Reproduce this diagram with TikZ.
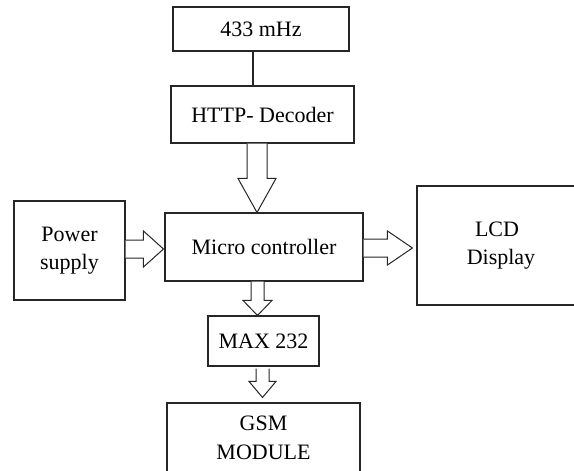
\documentclass[tikz,border=0pt]{standalone}
\usepackage{fontspec}
\setmainfont{Liberation Serif}
\usetikzlibrary{calc}
\tikzset{
  blk/.style={draw=black!85, line width=1.1pt, fill=white, inner sep=0pt, align=center,
    font=\fontsize{22}{28.5}\selectfont},
  barrow/.style={draw=black!85, line width=1pt, line join=miter, fill=white},
  wire/.style={draw=black!85, line width=1.1pt}
}
% vertical block arrow: #1 start, #2 tip, #3 shaft half, #4 head half, #5 head length
\newcommand\myvarrow[5]{%
  \draw[barrow] let \p1=(#1), \p2=(#2) in
    (\x1-#3,\y1) -- (\x1-#3,\y2+#5) -- (\x1-#4,\y2+#5) -- (\x1,\y2)
    -- (\x1+#4,\y2+#5) -- (\x1+#3,\y2+#5) -- (\x1+#3,\y1);}
% horizontal block arrow (pointing right)
\newcommand\myharrow[5]{%
  \draw[barrow] let \p1=(#1), \p2=(#2) in
    (\x1,\y1+#3) -- (\x2-#5,\y1+#3) -- (\x2-#5,\y1+#4) -- (\x2,\y1)
    -- (\x2-#5,\y1-#4) -- (\x2-#5,\y1-#3) -- (\x1,\y1-#3);}
\begin{document}
\begin{tikzpicture}[x=1pt,y=-1pt]
\useasboundingbox (0,0) rectangle (574,471);
\clip (0,0) rectangle (574,471);
\fill[white] (0,0) rectangle (574,471);

\node[blk, minimum width=176pt, minimum height=44pt] (f433) at (261,29) {433 mHz};
\node[blk, minimum width=183pt, minimum height=57pt] (http) at (262.5,114.5) {HTTP- Decoder};
\node[blk, minimum width=198pt, minimum height=68pt] (mc) at (264,247) {Micro controller};
\node[blk, minimum width=111pt, minimum height=99pt] (ps) at (69.5,250.5) {Power\\supply};
\node[blk, minimum width=160pt, minimum height=119pt] (lcd) at (497,245.5) {LCD\\[-1pt]\hspace*{8pt}Display};
\node[blk, minimum width=111pt, minimum height=50pt] (max) at (263.5,341) {MAX 232};
\node[blk, minimum width=193pt, minimum height=70pt] (gsm) at (263.5,438) {GSM\\MODULE};

% connectors
\draw[wire] ([xshift=-8pt]f433.south) -- ([xshift=-8pt]f433.south |- http.north);

\coordinate (a1s) at ([xshift=-5.5pt]http.south);
\coordinate (a1t) at (a1s |- mc.north);
\myvarrow{a1s}{a1t}{10pt}{19pt}{34pt}

\coordinate (a2s) at ([yshift=1.5pt]ps.east);
\coordinate (a2t) at ([xshift=-1pt]a2s -| mc.west);
\myharrow{a2s}{a2t}{9pt}{18pt}{20pt}

\coordinate (a3s) at ([yshift=-1pt]mc.east);
\coordinate (a3t) at ([xshift=-4pt]a3s -| lcd.west);
\myharrow{a3s}{a3t}{9pt}{17pt}{25pt}

\coordinate (a4s) at ([xshift=-6.5pt]mc.south);
\coordinate (a4t) at (a4s |- max.north);
\myvarrow{a4s}{a4t}{6.5pt}{14.5pt}{15pt}

\coordinate (a5s) at ([xshift=-1pt,yshift=-2pt]max.south);
\coordinate (a5t) at ([yshift=5pt]a5s |- gsm.north);
\myvarrow{a5s}{a5t}{6.5pt}{13.5pt}{16pt}
\end{tikzpicture}
\end{document}
